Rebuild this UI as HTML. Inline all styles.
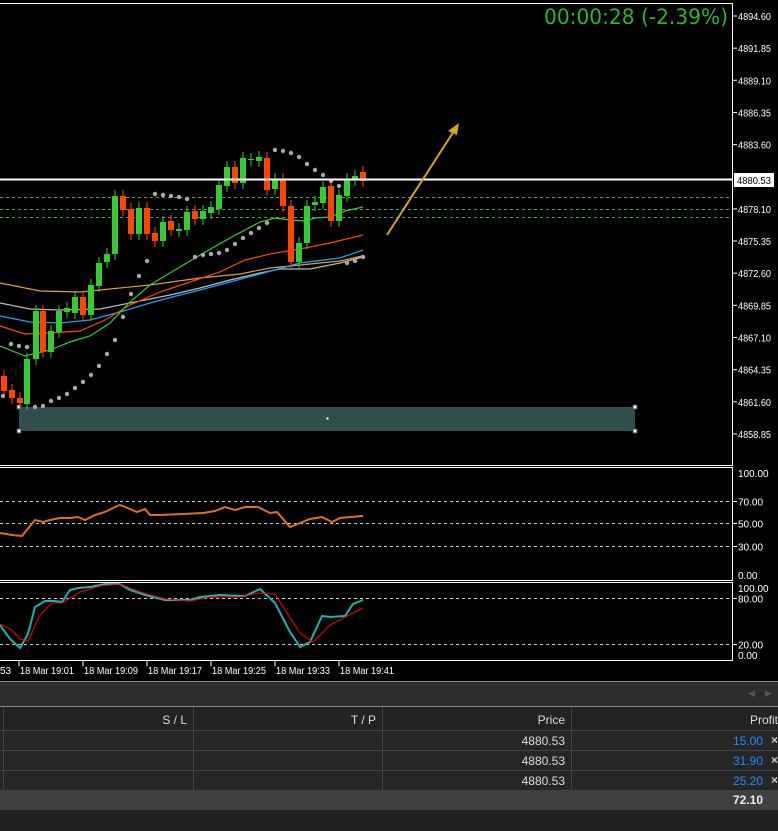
<!DOCTYPE html>
<html><head><meta charset="utf-8"><style>
body{margin:0;background:#000;width:778px;height:831px;overflow:hidden;font-family:"Liberation Sans",sans-serif}
svg{position:absolute;left:0;top:0}
.ax{font:10px "Liberation Sans",sans-serif;fill:#fff}
#bot{position:absolute;left:0;top:681px;width:778px;height:150px;background:#222}
.row{position:absolute;left:0;width:778px;font-size:12px;color:#ddd}
.c{position:absolute;top:0;height:100%;text-align:right;box-sizing:border-box;border-right:1px solid #444}
</style></head><body>
<svg id="s" width="778" height="681" xmlns="http://www.w3.org/2000/svg">
<rect width="778" height="681" fill="#000"/>
<g stroke="#fff" fill="none">
<polyline points="0,3.5 732.5,3.5 732.5,465.5 0,465.5"/>
<polyline points="0,467.5 732.5,467.5 732.5,580.5 0,580.5"/>
<polyline points="0,582.5 732.5,582.5 732.5,660.5 0,660.5"/>
</g>
<g stroke="#ccc" stroke-dasharray="3,3" stroke-width="1">
<line x1="0" y1="501.5" x2="732" y2="501.5"/><line x1="0" y1="523.5" x2="732" y2="523.5"/><line x1="0" y1="546.5" x2="732" y2="546.5"/>
<line x1="0" y1="598.5" x2="732" y2="598.5"/><line x1="0" y1="644.5" x2="732" y2="644.5"/>
</g>
<g stroke="#4a4" stroke-dasharray="3,3"><line x1="0" y1="197.5" x2="732" y2="197.5"/><line x1="0" y1="209.5" x2="732" y2="209.5"/><line x1="0" y1="217.5" x2="732" y2="217.5"/></g>
<rect x="19" y="407" width="616" height="24" fill="#2f4f4f"/>
<g fill="#fff" stroke="#2f4f4f"><rect x="17" y="405" width="4" height="4"/><rect x="633" y="405" width="4" height="4"/><rect x="17" y="429" width="4" height="4"/><rect x="633" y="429" width="4" height="4"/><rect x="326" y="417" width="3" height="3"/></g>
<g fill="none" stroke-width="1.2">
<polyline stroke="#e0a030" points="0,283 40,291 80,292 110,289 150,285 200,278 240,274 270,268 300,265 340,261 362,256"/>
<polyline stroke="#bbb" points="0,303 30,309 60,310 100,309 130,303 170,295 200,288 230,280 260,273 280,269 310,269 340,263 363,257"/>
<polyline stroke="#1ea0ff" points="0,316 30,322 60,323 90,320 120,312 150,303 180,295 200,290 230,282 260,274 300,263 340,258 363,250"/>
<polyline stroke="#ff4500" points="0,326 25,334 50,333 80,331 105,320 130,305 160,292 190,282 220,272 245,260 270,254 300,249 330,243 363,235"/>
<polyline stroke="#32cd32" points="0,346 25,356 50,350 70,342 90,336 110,323 130,302 150,285 170,273 200,255 230,238 260,222 275,218 290,220 305,221 315,218 330,217 345,211 363,207"/>
</g>
<g id="cd"></g><g id="sar" fill="#aaa"></g>
<line x1="0" y1="179.5" x2="732" y2="179.5" stroke="#fff" stroke-width="2"/>
<rect x="734" y="173" width="40" height="14" fill="#fff"/><text x="737" y="184" font-size="10" fill="#000" font-family="Liberation Sans" textLength="34" lengthAdjust="spacingAndGlyphs">4880.53</text>
<line x1="387" y1="235" x2="454" y2="131" stroke="#daa520" stroke-width="2"/>
<polygon points="459,123 448,131 457,135" fill="#daa520"/>
<text x="544" y="24" font-size="21" fill="#2db52d" font-family="DejaVu Sans" textLength="184" lengthAdjust="spacingAndGlyphs">00:00:28 (-2.39%)</text>
<polyline fill="none" stroke="#e07020" stroke-width="2" points="0,533 12,535 22,536 35,520 43,522 50,520 60,518 70,518 78,517 85,520 95,515 105,512 115,507 120,505 130,509 137,512 145,509 150,515 160,515 183,514 203,513 215,511 225,507 235,510 245,507 258,507 270,513 277,512 290,527 300,523 310,519 322,517 332,522 340,518 350,517 363,516"/>
<polyline fill="none" stroke="#20b2aa" stroke-width="2" points="0,625 10,639 20,648 28,634 35,607 45,601 55,601 62,602 70,590 78,588 90,587 105,584 120,584 130,590 145,595 165,600 190,600 200,597 220,595 245,596 260,589 275,603 290,632 300,647 310,642 322,616 330,617 345,616 353,604 363,600"/>
<polyline fill="none" stroke="#f00" stroke-width="1" points="0,624 12,630 20,639 28,641 40,615 52,603 62,603 80,592 100,586 120,584 140,592 165,599 190,601 210,597 240,597 258,593 275,594 285,610 300,633 313,642 330,625 345,617 363,608"/>
<g id="ax" class="ax"></g>
</svg>
<div id="bot">
<div style="position:absolute;left:0;top:0;width:778px;height:25px;background:#2d2d2d;border-top:1px solid #888"></div>
<div style="position:absolute;left:748px;top:7px;color:#555;font-size:9px">◀ &nbsp;&nbsp; ▶</div>
<div class="row" style="top:25px;height:24px;background:#232323;border-top:1px solid #888">
<div class="c" style="left:0;width:4px"></div>
<div class="c" style="left:4px;width:190px;padding:6px 6px 0 0">S / L</div>
<div class="c" style="left:194px;width:189px;padding:6px 6px 0 0">T / P</div>
<div class="c" style="left:383px;width:189px;padding:6px 6px 0 0">Price</div>
<div class="c" style="left:572px;width:206px;padding:6px 0 0 0;border:none">Profit</div></div>
<div id="rows"></div>
<div style="position:absolute;left:0;top:109px;width:778px;height:20px;background:#404040;color:#eee;font-weight:bold;font-size:12px"><span style="position:absolute;right:15px;top:3px">72.10</span></div>
</div>
<script>
var ns="http://www.w3.org/2000/svg";
function el(p,t,a,txt){var e=document.createElementNS(ns,t);for(var k in a)e.setAttribute(k,a[k]);if(txt)e.textContent=txt;p.appendChild(e);return e}
var C=[[3.5,'r',376,391],[11.5,'r',390,398],[19.5,'r',398,403],[27,'g',359,404],[35.5,'g',311,359],[43,'r',311,352],[51,'g',331,352],[59,'g',311,332],[67,'g',308,312],[75,'g',297,313],[83,'r',297,315],[91,'g',285,315],[99,'g',263,286],[107,'g',254,262],[115,'g',196,254],[123,'r',196,210],[131,'r',209,234],[139,'g',208,234],[147,'r',208,234],[155,'r',233,241],[163,'g',222,241],[171,'r',221,230],[179,'g',229,231],[187,'g',212,230],[195,'r',211,219],[203,'g',211,219],[211,'g',207,213],[219,'g',185,209],[227,'g',167,186],[235,'r',167,183],[243,'g',158,183],[251,'g',159,160],[259,'g',157,161],[267,'r',158,190],[275,'g',179,189],[283,'r',179,206],[291,'r',206,262],[299,'g',243,262],[307,'g',206,243],[315,'g',202,205],[323,'g',187,203],[331,'r',186,221],[339,'g',195,221],[347,'g',179,196],[355,'g',176,180],[363,'r',172,181]];
var cd=document.getElementById('cd');
C.forEach(function(c){var col=c[1]=='g'?'#32cd32':'#ff4500';var x=Math.round(c[0]);
el(cd,'line',{x1:x,x2:x,y1:c[2]-6,y2:c[3]+6,stroke:col});
el(cd,'rect',{x:x-3,y:c[2],width:6,height:Math.max(1,c[3]-c[2]),fill:col});});
var S=[[3,396],[11,344],[19,346],[27,347],[35,407],[43,406],[51,401],[59,398],[67,394],[75,388],[83,382],[91,375],[99,366],[107,354],[115,340],[123,317],[131,294],[139,276],[147,261],[155,194],[163,195],[171,196],[179,197],[187,199],[195,257],[203,255],[211,254],[219,253],[227,250],[235,244],[243,238],[251,233],[259,228],[267,223],[275,150],[283,151],[291,153],[299,157],[307,164],[315,170],[323,175],[331,181],[339,186],[347,263],[355,261],[363,257]];
var sg=document.getElementById('sar');S.forEach(function(p){el(sg,'circle',{cx:p[0],cy:p[1],r:2.2})});
var ax=document.getElementById('ax');
var P=['4894.60','4891.85','4889.10','4886.35','4883.60','4880.85','4878.10','4875.35','4872.60','4869.85','4867.10','4864.35','4861.60','4858.85'];
P.forEach(function(p,i){var y=16+i*32.15;if(i==5)return;el(ax,'line',{x1:732,x2:737,y1:y,y2:y,stroke:'#fff'});el(ax,'text',{x:738,y:y+4,textLength:33,lengthAdjust:'spacingAndGlyphs'},p)});
[['100.00',473],['70.00',501.5],['50.00',523.5],['30.00',546.5],['0.00',575],['100.00',588],['80.00',598.5],['20.00',644.5],['0.00',655]].forEach(function(a){if(a[0]!='100.00'&&a[0]!='0.00')el(ax,'line',{x1:732,x2:737,y1:a[1],y2:a[1],stroke:'#fff'});el(ax,'text',{x:738,y:a[1]+4},a[0])});
el(ax,'text',{x:0,y:674},'53');
['19:01','19:09','19:17','19:25','19:33','19:41'].forEach(function(t,i){var x=19+i*64;el(ax,'line',{x1:x,x2:x,y1:661,y2:666,stroke:'#fff'});el(ax,'text',{x:x+1,y:674,textLength:54,lengthAdjust:'spacingAndGlyphs'},'18 Mar '+t)});
var rows=document.getElementById('rows'),pr=['15.00','31.90','25.20'];
pr.forEach(function(v,i){var d=document.createElement('div');d.className='row';d.style.top=(49+i*20)+'px';d.style.height='20px';d.style.background='#262626';d.style.borderTop='1px solid #444';
d.innerHTML='<div class="c" style="left:0;width:4px"></div><div class="c" style="left:4px;width:190px"></div><div class="c" style="left:194px;width:189px"></div><div class="c" style="left:383px;width:189px;padding:3px 6px 0 0">4880.53</div><div style="position:absolute;right:15px;top:3px;color:#1e90ff">'+v+'</div><div style="position:absolute;right:0;top:2px;color:#ccc;font-weight:bold">×</div>';rows.appendChild(d)});
</script>
</body></html>
